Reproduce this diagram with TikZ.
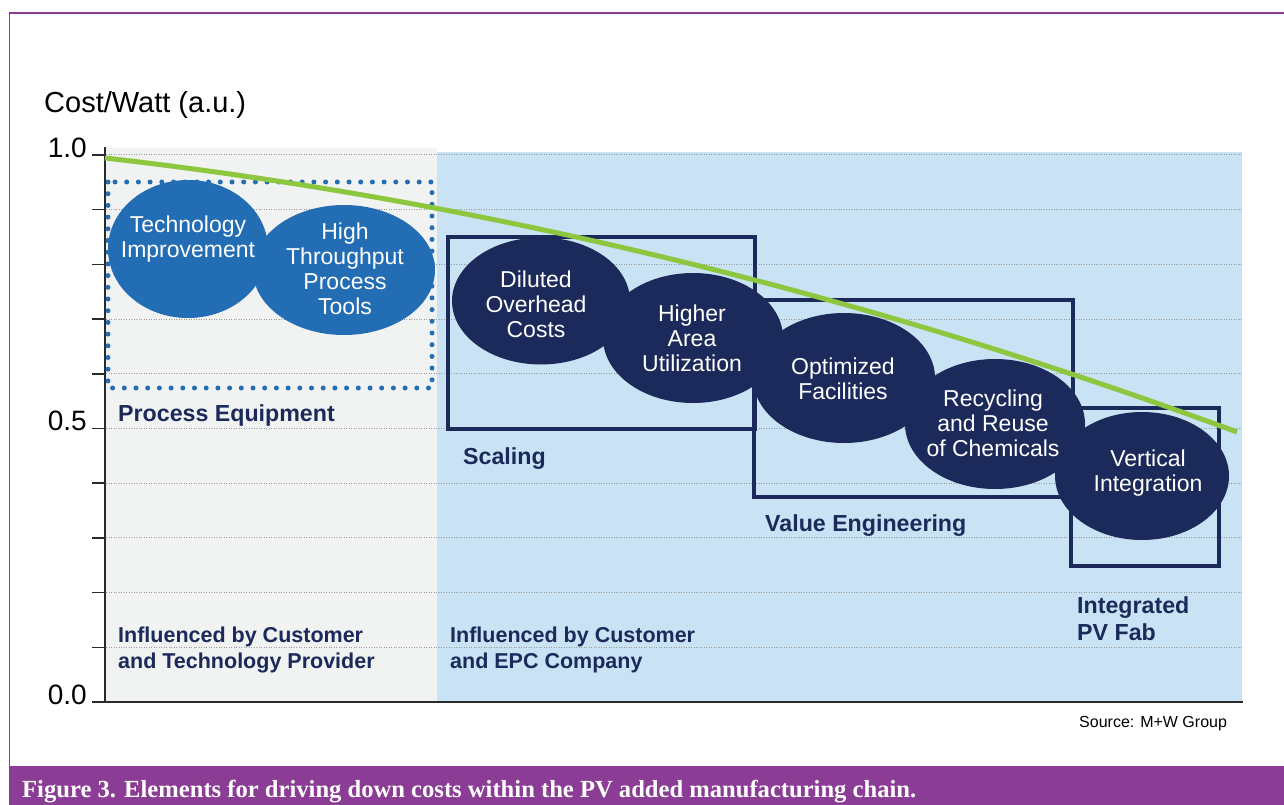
\documentclass[tikz,border=0pt]{standalone}
\usepackage{fontspec}
\setmainfont{Liberation Sans}
\newfontfamily\capfont{Liberation Serif}
\usetikzlibrary{shapes.geometric}
\definecolor{navy}{HTML}{1B2A5A}
\definecolor{midblue}{HTML}{236DB5}
\definecolor{lgreen}{HTML}{8DC63F}
\definecolor{purp}{HTML}{8B3C94}
\definecolor{bgblue}{HTML}{C9E3F4}
\definecolor{bggrey}{HTML}{F1F2F2}
\definecolor{gridc}{HTML}{9A9A9A}
\definecolor{axisc}{HTML}{2A2A2A}
\begin{document}
\begin{tikzpicture}[x=1pt,y=-1pt,
  navyell/.style={ellipse, fill=navy, inner sep=0pt},
  blueell/.style={ellipse, fill=midblue, inner sep=0pt},
  etext/.style={text=white, align=center, font=\fontsize{23}{25}\selectfont, inner sep=0pt},
  grpbox/.style={draw=navy, line width=4.5pt},
  glabel/.style={text=navy, font=\bfseries\fontsize{21.5}{26}\selectfont, align=left, inner sep=0pt, anchor=base west},
  biglabel/.style={glabel, font=\bfseries\fontsize{23.2}{27}\selectfont},
  numlabel/.style={font=\fontsize{28}{30}\selectfont, inner sep=0pt, anchor=base east},
  gridline/.style={gridc, line width=1pt, dash pattern=on 1pt off 1.5pt}
]
\useasboundingbox (0,0) rectangle (1284,805);
\fill[white] (0,0) rectangle (1284,805);
% frame
\draw[purp, line width=1.2pt] (9.5,766) -- (9.5,13) -- (1284,13);
\fill[purp] (9,766) rectangle (1284,805);
\node[font=\capfont\bfseries\fontsize{24.6}{27}\selectfont, text=white, anchor=base west, inner sep=0pt] (cap) at (22,797) {Figure 3. Elements for driving down costs within the PV added manufacturing chain.};
% plot backgrounds
\fill[bggrey] (105,148) rectangle (437,702);
\fill[bgblue] (437,152) rectangle (1242,702);
% grid lines and ticks
\foreach \k in {0,...,9} {
  \draw[gridline] (106,155+\k*54.7) -- (1242,155+\k*54.7);
}
\foreach \k in {0,...,10} {
  \draw[axisc, line width=1.5pt] (92,155+\k*54.7) -- (105,155+\k*54.7);
}
\node[numlabel] (l10) at (87,158) {1.0};
\node[numlabel] (l05) at (87,430.5) {0.5};
\node[numlabel] (l00) at (87,704) {0.0};
\node[font=\fontsize{29}{32}\selectfont, inner sep=0pt, anchor=base west] (ylab) at (44,113) {Cost/Watt (a.u.)};
% axes
\coordinate (ytop) at (105,147);
\coordinate (orig) at (105,702);
\coordinate (xend) at (1243,702);
\draw[axisc, line width=1.8pt] (ytop) -- (orig) -- (xend);
% process equipment ellipses
\node[blueell, minimum width=160pt, minimum height=138pt] (e1) at (188,249) {};
\node[blueell, minimum width=182pt, minimum height=130pt] (e2) at (344,270) {};
\node[etext] (t1) at (188,239) {Technology\\Improvement};
\node[etext] (t2) at (345,269) {High\\Throughput\\Process\\Tools};
\draw[midblue, line width=5pt, line cap=round, dash pattern=on 0pt off 11.7pt] (108,182) rectangle (432,388);
% group boxes
\draw[grpbox] (448,237) rectangle (755,429);
\draw[grpbox] (754,300) rectangle (1073,497);
\draw[grpbox] (1071,408) rectangle (1219,566);
% navy ellipses
\node[navyell, minimum width=178pt, minimum height=127pt] (e3) at (541,301) {};
\node[navyell, minimum width=180pt, minimum height=130pt] (e4) at (693,338) {};
\node[navyell, minimum width=182pt, minimum height=130pt] (e5) at (844,378) {};
\node[navyell, minimum width=180pt, minimum height=130pt] (e6) at (995,424) {};
\node[navyell, minimum width=174pt, minimum height=128pt] (e7) at (1142,476) {};
\node[etext] (t3) at (536,304) {Diluted\\Overhead\\Costs};
\node[etext] (t4) at (692,338) {Higher\\Area\\Utilization};
\node[etext] (t5) at (843,379) {Optimized\\Facilities};
\node[etext] (t6) at (993,423) {Recycling\\and Reuse\\of Chemicals};
\node[etext] (t7) at (1148,473) {Vertical\\Integration};
% green cost curve
\coordinate (gs) at (105,158);
\coordinate (ge) at (1237,432);
\draw[lgreen, line width=5pt] (gs) .. controls (482,201) and (860,293) .. (ge);
% labels
\node[biglabel] (pe) at (118,421) {Process Equipment};
\node[biglabel] (sc) at (463,464) {Scaling};
\node[biglabel] (ve) at (765,531) {Value Engineering};
\node[biglabel] (ip) at (1077,640) {Integrated\\PV Fab};
\node[glabel] (ic1) at (118,668) {Influenced by Customer\\and Technology Provider};
\node[glabel] (ic2) at (450,668) {Influenced by Customer\\and EPC Company};
\node[font=\fontsize{16}{19}\selectfont, inner sep=0pt, anchor=base west] (src) at (1079,727) {Source: M+W Group};
\end{tikzpicture}
\end{document}
